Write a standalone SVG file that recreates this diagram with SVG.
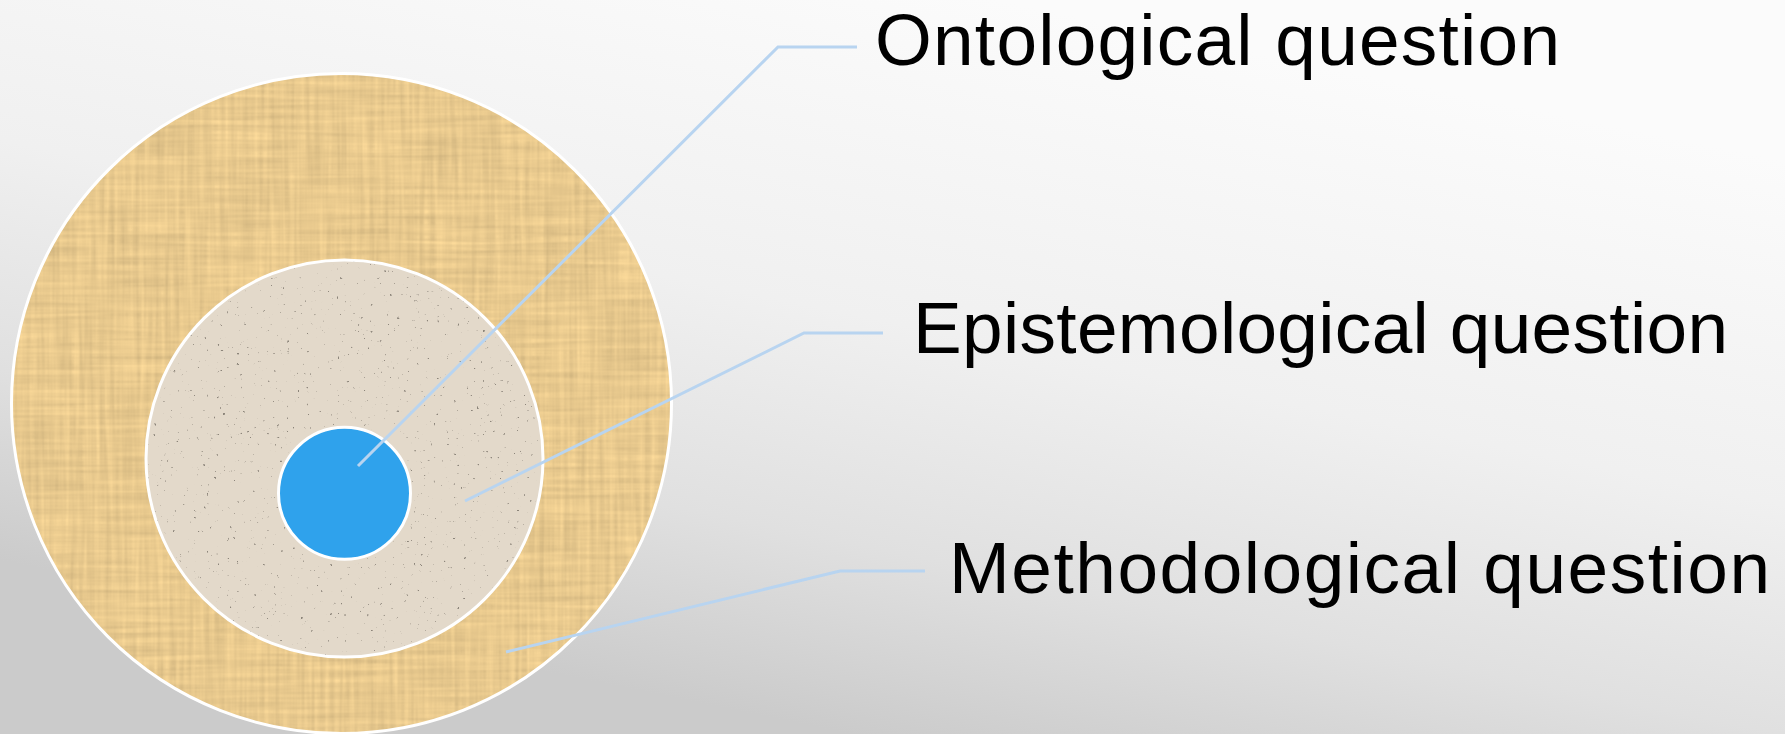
<svg xmlns="http://www.w3.org/2000/svg" width="1785" height="734" viewBox="0 0 1785 734">
  <defs>
    <linearGradient id="bg" gradientUnits="userSpaceOnUse" x1="1000" y1="0" x2="850" y2="734">
      <stop offset="0" stop-color="#fbfbfb"/>
      <stop offset="0.45" stop-color="#f0f0f0"/>
      <stop offset="0.75" stop-color="#e0e0e0"/>
      <stop offset="1" stop-color="#cbcbcb"/>
    </linearGradient>
    <filter id="weave" x="0" y="0" width="1" height="1" color-interpolation-filters="sRGB">
      <feTurbulence type="fractalNoise" baseFrequency="0.2 0.01" numOctaves="2" seed="3" result="v"/>
      <feTurbulence type="fractalNoise" baseFrequency="0.01 0.2" numOctaves="2" seed="9" result="h"/>
      <feComposite in="v" in2="h" operator="arithmetic" k2="0.5" k3="0.5" result="n"/>
      <feColorMatrix in="n" type="matrix" values="1 0 0 0 0  1 0 0 0 0  1 0 0 0 0  0 0 0 0 1" result="g"/>
      <feComposite in="SourceGraphic" in2="g" operator="arithmetic" k1="0.3" k2="0.86" result="t"/>
      <feComposite in="t" in2="SourceGraphic" operator="in"/>
    </filter>
    <filter id="speckle" x="0" y="0" width="1" height="1" color-interpolation-filters="sRGB">
      <feTurbulence type="fractalNoise" baseFrequency="0.3" numOctaves="2" seed="5" result="n"/>
      <feColorMatrix in="n" type="matrix" values="0 0 0 0 0.55  0 0 0 0 0.52  0 0 0 0 0.48  -10 0 0 0 2.6" result="dots"/>
      <feComposite in="dots" in2="SourceGraphic" operator="in" result="d"/>
      <feMerge>
        <feMergeNode in="SourceGraphic"/>
        <feMergeNode in="d"/>
      </feMerge>
    </filter>
  </defs>
  <style>
    .ring { stroke: #ffffff; stroke-width: 3; }
    .conn { fill: none; stroke: #b8d4f0; stroke-width: 3; stroke-linejoin: miter; }
    .label { font-family: "Liberation Sans", Arial, sans-serif; font-size: 73px; fill: #000000; }
  </style>

  <rect x="0" y="0" width="1785" height="734" fill="url(#bg)"/>

  <g id="outer-ring">
    <circle cx="341.5" cy="403.5" r="330" fill="#e6c78c" filter="url(#weave)"/>
    <circle class="ring" cx="341.5" cy="403.5" r="330" fill="none"/>
  </g>
  <g id="middle-ring">
    <circle cx="344.5" cy="458.5" r="198.5" fill="#e3d9ca" filter="url(#speckle)"/>
    <circle class="ring" cx="344.5" cy="458.5" r="198.5" fill="none"/>
  </g>
  <g id="core">
    <circle class="ring" cx="344.5" cy="493.3" r="66" fill="#2fa2ec"/>
  </g>

  <g id="connectors">
    <polyline class="conn" points="358,466 778,47 857,47"/>
    <polyline class="conn" points="465,501 804,333 883,333"/>
    <polyline class="conn" points="506,652 840,571 925,571"/>
  </g>

  <g id="label-ontological">
    <text class="label" x="875" y="65" textLength="685" lengthAdjust="spacing">Ontological question</text>
  </g>
  <g id="label-epistemological">
    <text class="label" x="913" y="353" textLength="815" lengthAdjust="spacing">Epistemological question</text>
  </g>
  <g id="label-methodological">
    <text class="label" x="949" y="593" textLength="821" lengthAdjust="spacing">Methodological question</text>
  </g>
</svg>
